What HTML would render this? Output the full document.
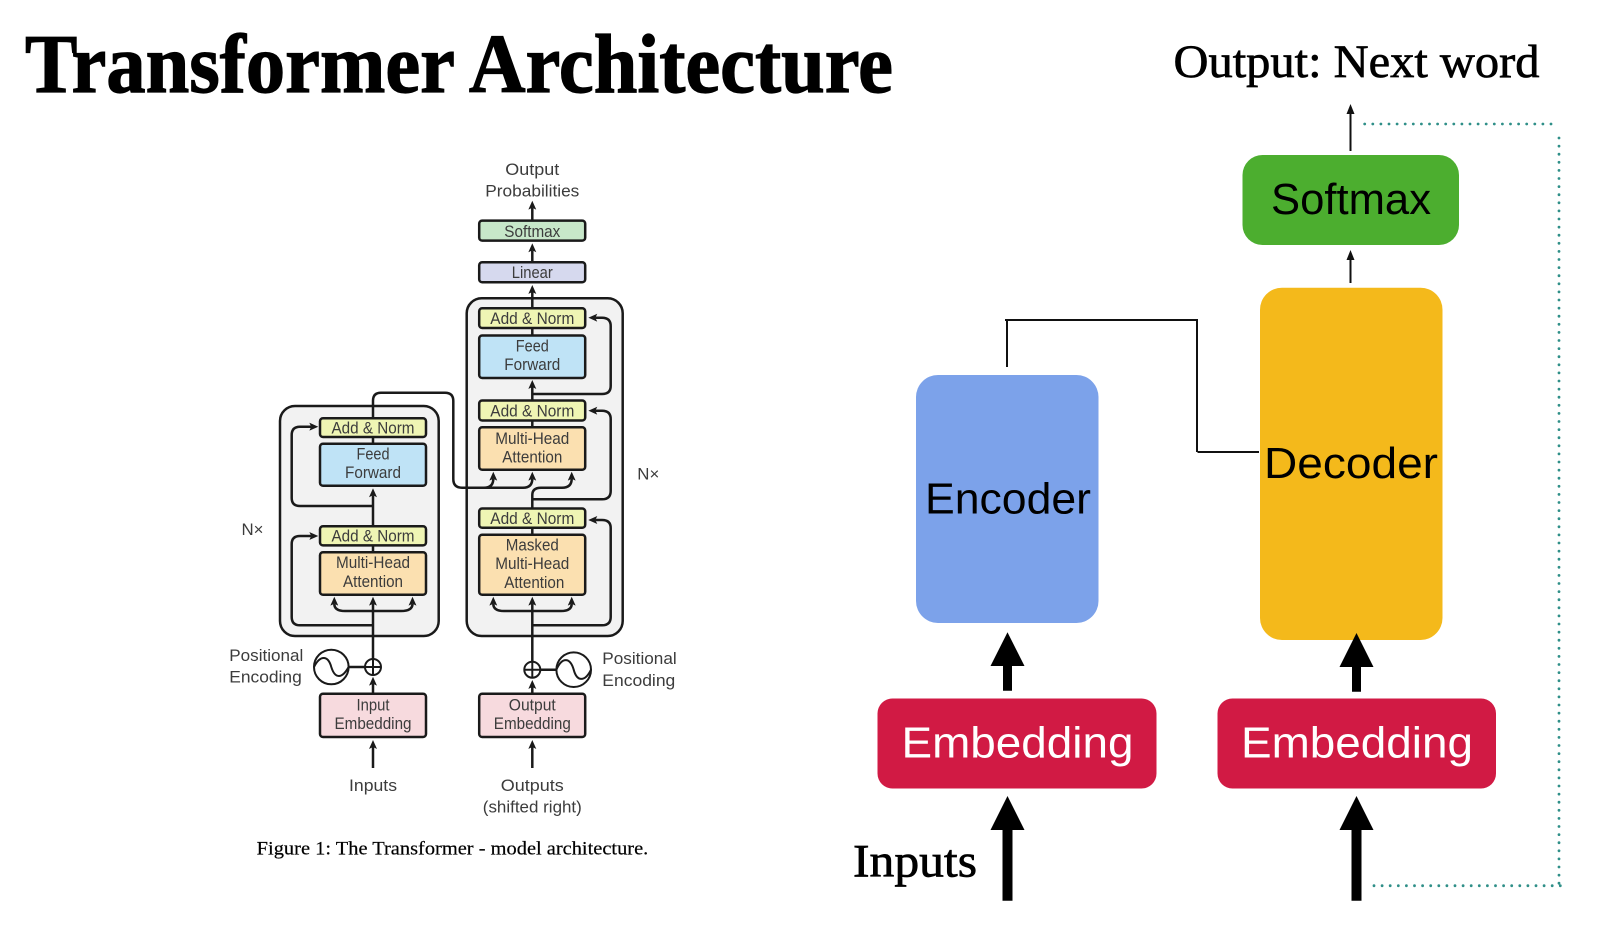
<!DOCTYPE html>
<html lang="en">
<head>
<meta charset="utf-8">
<title>Transformer Architecture</title>
<style>
html,body{margin:0;padding:0;background:#fff;width:1622px;height:948px;overflow:hidden}
svg{display:block}
.s{font-family:"Liberation Serif",serif}
.l{font-family:"Liberation Sans",sans-serif;font-size:17px;fill:#3c3c3c;text-anchor:middle}
.b{fill:none;stroke:#1a1a1a;stroke-width:2.5}
.r{stroke:#1a1a1a;stroke-width:2.5}
.big{font-family:"Liberation Sans",sans-serif;font-size:44px;text-anchor:middle}
.dot{fill:none;stroke:#2f8f88;stroke-width:2.8;stroke-linecap:round;stroke-dasharray:0 8.1}
</style>
</head>
<body>
<svg width="1622" height="948" viewBox="0 0 1622 948" xmlns="http://www.w3.org/2000/svg">
<defs>
<marker id="m" markerUnits="userSpaceOnUse" viewBox="0 0 9 8" refX="2" refY="4" markerWidth="9" markerHeight="8" orient="auto"><path d="M0 0L9 4L0 8L2 4Z" fill="#1a1a1a"/></marker>
</defs>
<rect width="1622" height="948" fill="#fff"/>

<text class="s" x="25" y="92" font-size="84" font-weight="700" stroke="#000" stroke-width="1.2" textLength="868" lengthAdjust="spacingAndGlyphs">Transformer Architecture</text>

<g style="filter:blur(.35px)">
<rect class="r" x="280" y="406" width="158.7" height="230" rx="15" fill="#f2f2f2"/>
<rect class="r" x="466.7" y="298.3" width="156" height="337.7" rx="15" fill="#f2f2f2"/>

<!-- encoder connectors -->
<g class="b">
<path d="M373 768V747" marker-end="url(#m)"/>
<path d="M373 693V683.7" marker-end="url(#m)"/>
<path d="M373 659V603.7" marker-end="url(#m)"/>
<path d="M373 611H345Q334.3 611 334.3 603.7" marker-end="url(#m)"/>
<path d="M373 611H401Q412.5 611 412.5 603.7" marker-end="url(#m)"/>
<path d="M373 625.3H300Q291.7 625.3 291.7 617V544Q291.7 536 300 536H311.3" marker-end="url(#m)"/>
<path d="M373 552V546"/>
<path d="M373 526V495.3" marker-end="url(#m)"/>
<path d="M373 506H300Q291.7 506 291.7 498V435Q291.7 426.7 300 426.7H311.3" marker-end="url(#m)"/>
<path d="M373 443V437"/>
<path d="M373 418V400.7Q373 392.7 381 392.7H445Q453.3 392.7 453.3 401V479Q453.3 487.7 462 487.7H484Q493.3 487.7 493.3 478.7" marker-end="url(#m)"/>
<path d="M484 487.7H523Q532.3 487.7 532.3 478.7" marker-end="url(#m)"/>
</g>
<!-- decoder connectors -->
<g class="b">
<path d="M532.3 768V747" marker-end="url(#m)"/>
<path d="M532.3 693V687" marker-end="url(#m)"/>
<path d="M532.3 662V603.7" marker-end="url(#m)"/>
<path d="M532.3 611H504Q493.3 611 493.3 603.7" marker-end="url(#m)"/>
<path d="M532.3 611H561Q571.7 611 571.7 603.7" marker-end="url(#m)"/>
<path d="M532.3 625.3H602Q610.7 625.3 610.7 617V528Q610.7 520 602 520H595.3" marker-end="url(#m)"/>
<path d="M532.3 534V528"/>
<path d="M532.3 508V495Q532.3 487.7 541 487.7H562Q571.7 487.7 571.7 478.7" marker-end="url(#m)"/>
<path d="M532.3 499.3H602Q610.7 499.3 610.7 491V419Q610.7 410.7 602 410.7H595.3" marker-end="url(#m)"/>
<path d="M532.3 427V420"/>
<path d="M532.3 400V387" marker-end="url(#m)"/>
<path d="M532.3 394H602Q610.7 394 610.7 386V326Q610.7 317.7 602 317.7H595.3" marker-end="url(#m)"/>
<path d="M532.3 335V328"/>
<path d="M532.3 308V292" marker-end="url(#m)"/>
<path d="M532.3 262V250.3" marker-end="url(#m)"/>
<path d="M532.3 220V207.7" marker-end="url(#m)"/>
</g>

<!-- encoder boxes -->
<rect class="r" x="320" y="418.2" width="106" height="18.8" rx="3" fill="#eff5b4"/>
<rect class="r" x="320" y="443.8" width="106" height="42" rx="3" fill="#bfe3f6"/>
<rect class="r" x="320" y="526.2" width="106" height="19.2" rx="3" fill="#eff5b4"/>
<rect class="r" x="320" y="552.2" width="106" height="42.6" rx="3" fill="#fbe0b0"/>
<rect class="r" x="320" y="693.8" width="106" height="43.2" rx="3" fill="#f7dade"/>
<!-- decoder boxes -->
<rect class="r" x="479.2" y="220.6" width="106" height="20" rx="3" fill="#c7e7c9"/>
<rect class="r" x="479.2" y="262.2" width="106" height="20" rx="3" fill="#d6d9ee"/>
<rect class="r" x="479.2" y="308.2" width="106" height="19.8" rx="3" fill="#eff5b4"/>
<rect class="r" x="479.2" y="335.5" width="106" height="42.5" rx="3" fill="#bfe3f6"/>
<rect class="r" x="479.2" y="400.5" width="106" height="20" rx="3" fill="#eff5b4"/>
<rect class="r" x="479.2" y="427.2" width="106" height="42.5" rx="3" fill="#fbe0b0"/>
<rect class="r" x="479.2" y="508.5" width="106" height="19.2" rx="3" fill="#eff5b4"/>
<rect class="r" x="479.2" y="534.8" width="106" height="60" rx="3" fill="#fbe0b0"/>
<rect class="r" x="479.2" y="693.8" width="106" height="43.2" rx="3" fill="#f7dade"/>

<!-- positional encoding -->
<g fill="none" stroke="#1a1a1a" stroke-width="2">
<path d="M348.6 667H365" stroke-width="2.5"/>
<circle cx="331.3" cy="667" r="17.3" fill="#fff"/>
<path d="M314 667C320 655 328 655 331.3 667C335 679 342 679 348.6 667"/>
<circle cx="373" cy="667" r="8" fill="#fff"/>
<path d="M365 667H381M373 659V675"/>
<path d="M540.3 669.7H556.4" stroke-width="2.5"/>
<circle cx="573.7" cy="669.7" r="17.3" fill="#fff"/>
<path d="M556.4 669.7C562 657 570 657 573.7 669.7C577 682 585 682 591 669.7"/>
<circle cx="532.3" cy="669.7" r="8" fill="#fff"/>
<path d="M524.3 669.7H540.3M532.3 661.7V677.7"/>
</g>

<!-- diagram labels -->
<text class="l" x="532.3" y="175" textLength="54" lengthAdjust="spacingAndGlyphs">Output</text>
<text class="l" x="532.3" y="196.7" textLength="94" lengthAdjust="spacingAndGlyphs">Probabilities</text>
<text class="l" x="532.3" y="236.8" font-size="16" textLength="56" lengthAdjust="spacingAndGlyphs">Softmax</text>
<text class="l" x="532.3" y="278" textLength="41" lengthAdjust="spacingAndGlyphs">Linear</text>
<text class="l" x="532.3" y="324" textLength="84" lengthAdjust="spacingAndGlyphs">Add &amp; Norm</text>
<text class="l" x="532.3" y="351.7" textLength="33" lengthAdjust="spacingAndGlyphs">Feed</text>
<text class="l" x="532.3" y="370" textLength="56" lengthAdjust="spacingAndGlyphs">Forward</text>
<text class="l" x="532.3" y="416.7" textLength="84" lengthAdjust="spacingAndGlyphs">Add &amp; Norm</text>
<text class="l" x="532.3" y="444" textLength="74" lengthAdjust="spacingAndGlyphs">Multi-Head</text>
<text class="l" x="532.3" y="462.7" textLength="60" lengthAdjust="spacingAndGlyphs">Attention</text>
<text class="l" x="532.3" y="524" textLength="84" lengthAdjust="spacingAndGlyphs">Add &amp; Norm</text>
<text class="l" x="532.3" y="550.5" textLength="53" lengthAdjust="spacingAndGlyphs">Masked</text>
<text class="l" x="532.3" y="569.2" textLength="74" lengthAdjust="spacingAndGlyphs">Multi-Head</text>
<text class="l" x="534.3" y="587.8" textLength="60" lengthAdjust="spacingAndGlyphs">Attention</text>
<text class="l" x="532.3" y="710.5" textLength="47" lengthAdjust="spacingAndGlyphs">Output</text>
<text class="l" x="532.3" y="729.2" textLength="77" lengthAdjust="spacingAndGlyphs">Embedding</text>
<text class="l" x="532.3" y="791" textLength="63" lengthAdjust="spacingAndGlyphs">Outputs</text>
<text class="l" x="532.3" y="812.7" textLength="99" lengthAdjust="spacingAndGlyphs">(shifted right)</text>
<text class="l" x="373" y="433.3" textLength="83" lengthAdjust="spacingAndGlyphs">Add &amp; Norm</text>
<text class="l" x="373" y="459.5" textLength="33" lengthAdjust="spacingAndGlyphs">Feed</text>
<text class="l" x="373" y="477.8" textLength="56" lengthAdjust="spacingAndGlyphs">Forward</text>
<text class="l" x="373" y="541.7" textLength="83" lengthAdjust="spacingAndGlyphs">Add &amp; Norm</text>
<text class="l" x="373" y="568" textLength="74" lengthAdjust="spacingAndGlyphs">Multi-Head</text>
<text class="l" x="373" y="587" textLength="60" lengthAdjust="spacingAndGlyphs">Attention</text>
<text class="l" x="373" y="710.5" textLength="33" lengthAdjust="spacingAndGlyphs">Input</text>
<text class="l" x="373" y="729.2" textLength="77" lengthAdjust="spacingAndGlyphs">Embedding</text>
<text class="l" x="373" y="791" textLength="48" lengthAdjust="spacingAndGlyphs">Inputs</text>
<text class="l" x="648.3" y="479.3" textLength="22" lengthAdjust="spacingAndGlyphs">N×</text>
<text class="l" x="252.5" y="535" textLength="22" lengthAdjust="spacingAndGlyphs">N×</text>
<text class="l" x="266.3" y="661" textLength="74" lengthAdjust="spacingAndGlyphs">Positional</text>
<text class="l" x="265.5" y="682.7" textLength="72.5" lengthAdjust="spacingAndGlyphs">Encoding</text>
<text class="l" x="639.5" y="664" textLength="74.4" lengthAdjust="spacingAndGlyphs">Positional</text>
<text class="l" x="638.8" y="686" textLength="73" lengthAdjust="spacingAndGlyphs">Encoding</text>
<text class="s" x="256.7" y="854.3" font-size="19" fill="#000" stroke="#000" stroke-width=".2" textLength="391.6" lengthAdjust="spacingAndGlyphs">Figure 1: The Transformer - model architecture.</text>
</g>

<!-- right diagram -->
<text class="s" x="1173.5" y="77" font-size="47" stroke="#000" stroke-width=".7" textLength="366" lengthAdjust="spacingAndGlyphs">Output: Next word</text>

<path class="dot" d="M1364.7 124H1552"/>
<path class="dot" d="M1559 138V886"/>
<path class="dot" d="M1374 885.7H1561"/>

<rect x="1242.5" y="155" width="216.5" height="90" rx="20" fill="#4cae2f"/>
<rect x="1260" y="287.7" width="182.5" height="352.3" rx="22" fill="#f4b91b"/>
<rect x="916" y="375" width="182.5" height="248" rx="22" fill="#7ca2ea"/>
<rect x="877.5" y="698.5" width="279" height="90" rx="15" fill="#d11a44"/>
<rect x="1217.5" y="698.5" width="278.5" height="90" rx="15" fill="#d11a44"/>

<text class="big" x="1351" y="214" textLength="160" lengthAdjust="spacingAndGlyphs">Softmax</text>
<text class="big" x="1351" y="478" textLength="174" lengthAdjust="spacingAndGlyphs">Decoder</text>
<text class="big" x="1008" y="513.5" textLength="166" lengthAdjust="spacingAndGlyphs">Encoder</text>
<text class="big" x="1017.5" y="757.5" fill="#fff" textLength="232" lengthAdjust="spacingAndGlyphs">Embedding</text>
<text class="big" x="1357" y="757.5" fill="#fff" textLength="232" lengthAdjust="spacingAndGlyphs">Embedding</text>
<text class="s" x="853" y="876.7" font-size="47" stroke="#000" stroke-width=".7" textLength="124" lengthAdjust="spacingAndGlyphs">Inputs</text>

<!-- thin arrows -->
<path d="M1350.5 151V110M1350.5 283V257" stroke="#111" stroke-width="2" fill="none"/>
<path d="M1350.5 104l4 10h-8zM1350.5 250l4 10h-8z" fill="#111"/>
<!-- connector -->
<path d="M1005 320H1197V452M1007 320V367M1197.5 452H1259" fill="none" stroke="#111" stroke-width="2"/>

<!-- thick arrows -->
<path d="M1007.5 632.3L1024.5 666H1012V690.7H1003V666H990.5Z" fill="#000"/>
<path d="M1356.5 633L1373.5 667H1361V691.7H1352V667H1339.5Z" fill="#000"/>
<path d="M1007.5 796L1024.5 830H1012.5V900.7H1002.5V830H990.5Z" fill="#000"/>
<path d="M1356.5 796L1373.5 830H1361.5V900.7H1351.5V830H1339.5Z" fill="#000"/>
</svg>
</body>
</html>
